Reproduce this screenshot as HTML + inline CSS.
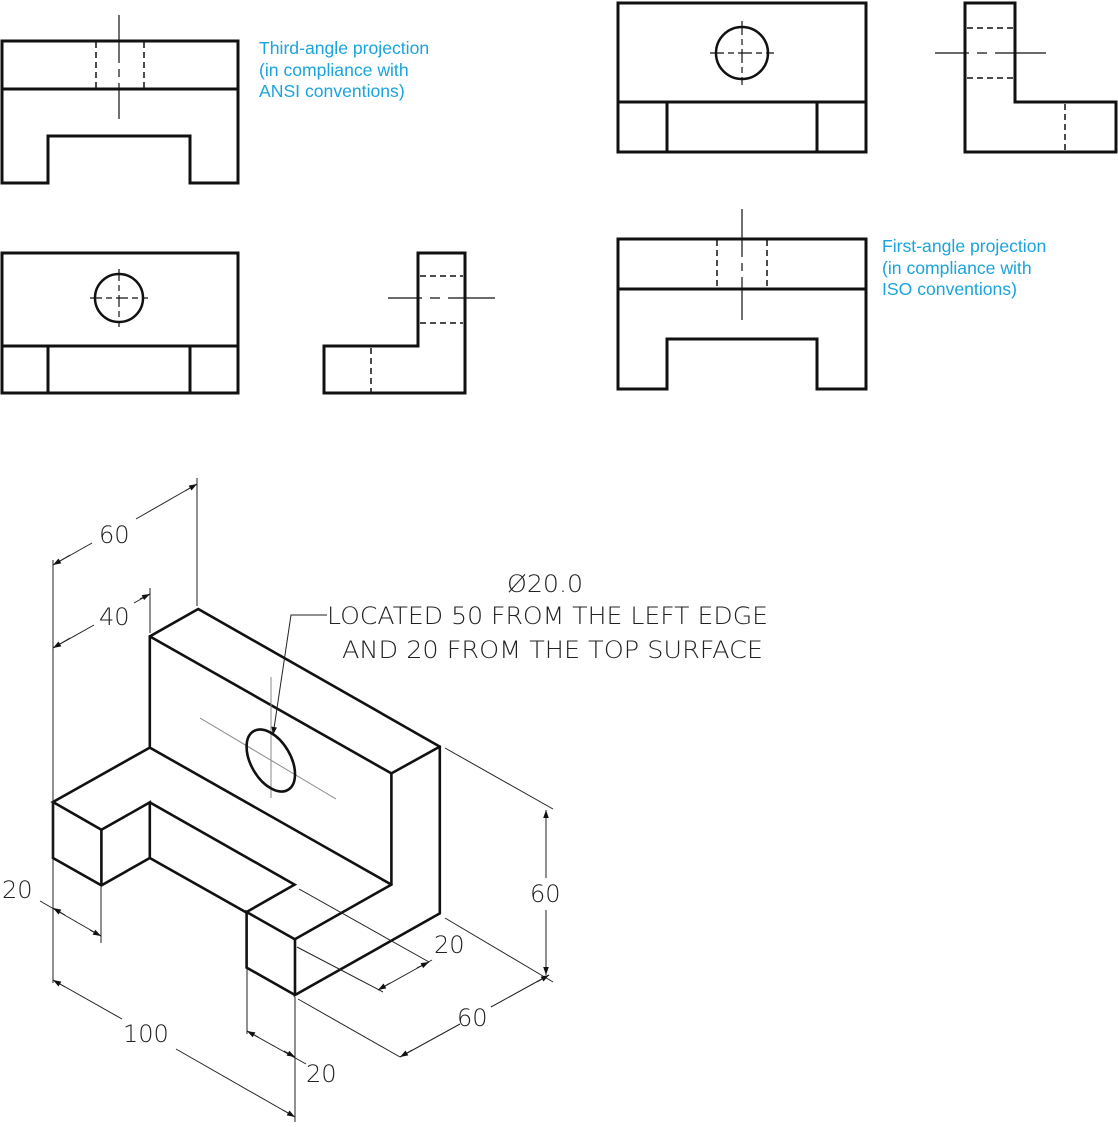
<!DOCTYPE html>
<html><head><meta charset="utf-8"><style>
html,body{margin:0;padding:0;background:#fff;}
svg{display:block;}
.k{stroke:#111;stroke-width:3;fill:none;stroke-linejoin:miter;stroke-linecap:square}
.d{stroke:#111;stroke-width:1.5;fill:none;stroke-dasharray:6,4}
.c{stroke:#111;stroke-width:1.2;fill:none}
.t{stroke:#222;stroke-width:1;fill:none}
.g{stroke:#888;stroke-width:1;fill:none}
.b{fill:#1aa3dc;font-family:"Liberation Sans",sans-serif;font-size:17.6px}
.n{fill:#222;font-family:"DejaVu Sans","Liberation Sans",sans-serif;font-size:24px;font-weight:200}
</style></head><body>
<svg width="1118" height="1127" viewBox="0 0 1118 1127" xmlns="http://www.w3.org/2000/svg">
<defs>
<marker id="a" viewBox="0 0 10 10" refX="10" refY="5" markerWidth="10" markerHeight="8" markerUnits="userSpaceOnUse" orient="auto-start-reverse"><path d="M0,1.5 L10,5 L0,8.5z" fill="#111"/></marker>
</defs>
<!-- Third-angle front view -->
<path class="k" d="M2,41 H238 V183 H190 V136 H48 V183 H2 Z M2,89 H238"/>
<path class="d" d="M96,42 V89 M144,42 V89"/>
<path class="c" d="M119,15 V119" stroke-dasharray="48,6,8,6,60"/>
<text class="b" x="259" y="54">Third-angle projection</text>
<text class="b" x="259" y="76">(in compliance with</text>
<text class="b" x="259" y="97">ANSI conventions)</text>
<!-- Third-angle top view -->
<path class="k" d="M2,253 H238 V393 H2 Z M2,346 H238 M48,346 V393 M190,346 V393"/>
<circle class="k" cx="119" cy="298" r="24" style="stroke-width:2.5"/>
<path class="c" d="M90,298 H148 M119,269 V327" stroke-dasharray="12,4,6,4"/>
<!-- Third-angle side view -->
<path class="k" d="M418,253 H465 V393 H324 V346 H418 Z"/>
<path class="d" d="M420,276 H463 M420,323 H463 M371,348 V393"/>
<path class="c" d="M388,298 H495" stroke-dasharray="34,8,10,8,60"/>
<!-- First-angle top view -->
<path class="k" d="M618,3 H866 V152 H618 Z M618,102 H866 M667,102 V152 M817,102 V152"/>
<circle class="k" cx="742" cy="53" r="26" style="stroke-width:2.5"/>
<path class="c" d="M710,53 H774 M742,21 V85" stroke-dasharray="14,4,6,4"/>
<!-- First-angle side view -->
<path class="k" d="M965,3 H1015 V102 H1116 V152 H965 Z"/>
<path class="d" d="M967,28 H1013 M967,78 H1013 M1065,104 V152"/>
<path class="c" d="M935,53 H1046" stroke-dasharray="34,8,10,8,60"/>
<!-- First-angle front view -->
<path class="k" d="M618,239 H866 V389 H817 V339 H667 V389 H618 Z M618,289 H866"/>
<path class="d" d="M717,240 V289 M767,240 V289"/>
<path class="c" d="M742,209 V320" stroke-dasharray="48,6,8,6,60"/>
<text class="b" x="882" y="252">First-angle projection</text>
<text class="b" x="882" y="274">(in compliance with</text>
<text class="b" x="882" y="295">ISO conventions)</text>

<!-- Isometric -->
<g class="k" style="stroke-width:2.6;stroke-linecap:round">
<path d="M53,802 V858 L101.4,885.4 L149.8,858 V802.4 L101.4,829.8 L53,802 L149.8,747.6 V636.4 L198.2,609 L439.8,746.6 V913.4 L295,995 V939.4 L246.6,912 V967.6 L295,995"/>
<path d="M101.4,829.8 V885.4"/>
<path d="M149.8,858 L246.6,912.6"/>
<path d="M149.8,802.4 L294.6,884.6 L246.6,912"/>
<path d="M294.6,939.4 L391.4,884.6 V773.4 L439.8,746.6"/>
<path d="M149.8,636.4 L391.4,773.4"/>
<path d="M149.8,747.6 L391.4,884.6"/>
</g>
<!-- hole -->
<path class="g" d="M200,718 L336,799 M271,677 V798"/>
<circle cx="0" cy="0" r="10" fill="none" stroke="#111" stroke-width="2.6" vector-effect="non-scaling-stroke" transform="matrix(2.42,1.37,0,-2.78,270.8,760.5)"/>
<path class="t" d="M327,615 H291 L273,735" marker-end="url(#a)"/>
<text class="n" x="507" y="592" textLength="76" lengthAdjust="spacingAndGlyphs">Ø20.0</text>
<text class="n" x="327" y="624" textLength="441" lengthAdjust="spacingAndGlyphs">LOCATED 50 FROM THE LEFT EDGE</text>
<text class="n" x="342" y="658" textLength="421" lengthAdjust="spacingAndGlyphs">AND 20 FROM THE TOP SURFACE</text>

<!-- dimensions -->
<g class="t">
<path d="M197,478 V606"/>
<path d="M53,560 V983"/>
<path d="M150,588 V633"/>
<path d="M53,565 L92,543 M136,519 L197,484" />
<path d="M53,565 L70,555" marker-start="url(#a)"/>
<path d="M185,491 L197,484" marker-end="url(#a)"/>
<path d="M53,648 L94,625 M134,603 L150,594"/>
<path d="M53,648 L70,638" marker-start="url(#a)"/>
<path d="M140,599 L150,594" marker-end="url(#a)"/>
<!-- 20 left -->
<path d="M101,887 V943"/>
<path d="M40,901 L101,936"/>
<path d="M53,908 L65,915" marker-start="url(#a)"/>
<path d="M90,930 L101,936" marker-end="url(#a)"/>
<!-- 100 -->
<path d="M53,980 L122,1019 M176,1049 L295,1117"/>
<path d="M53,980 L65,987" marker-start="url(#a)"/>
<path d="M283,1110 L295,1117" marker-end="url(#a)"/>
<path d="M295,997 V1122"/>
<path d="M247,969 V1034"/>
<!-- 20 bottom -->
<path d="M247,1031 L306,1064"/>
<path d="M247,1031 L258,1037" marker-start="url(#a)"/>
<path d="M284,1051 L295,1057" marker-end="url(#a)"/>
<!-- 60 bottom right -->
<path d="M298,999 L400,1057 M445,918 L553,982"/>
<path d="M400,1057 L460,1024 M491,1007 L549,975"/>
<path d="M400,1057 L412,1050" marker-start="url(#a)"/>
<path d="M537,982 L549,975" marker-end="url(#a)"/>
<!-- 60 vertical -->
<path d="M445,748 L553,809"/>
<path d="M546,810 V878 M546,910 V975"/>
<path d="M546,822 V810" marker-end="url(#a)"/>
<path d="M546,963 V975" marker-end="url(#a)"/>
<!-- 20 middle -->
<path d="M299,889 L429,962 M297,947 L383,992"/>
<path d="M378,990 L432,960"/>
<path d="M378,990 L390,983" marker-start="url(#a)"/>
<path d="M417,968 L429,962" marker-end="url(#a)"/>
</g>
<text class="n" x="99" y="543">60</text>
<text class="n" x="99" y="625">40</text>
<text class="n" x="2" y="898">20</text>
<text class="n" x="123" y="1042">100</text>
<text class="n" x="306" y="1082">20</text>
<text class="n" x="457" y="1026">60</text>
<text class="n" x="530" y="902">60</text>
<text class="n" x="434" y="953">20</text>
</svg>
</body></html>
